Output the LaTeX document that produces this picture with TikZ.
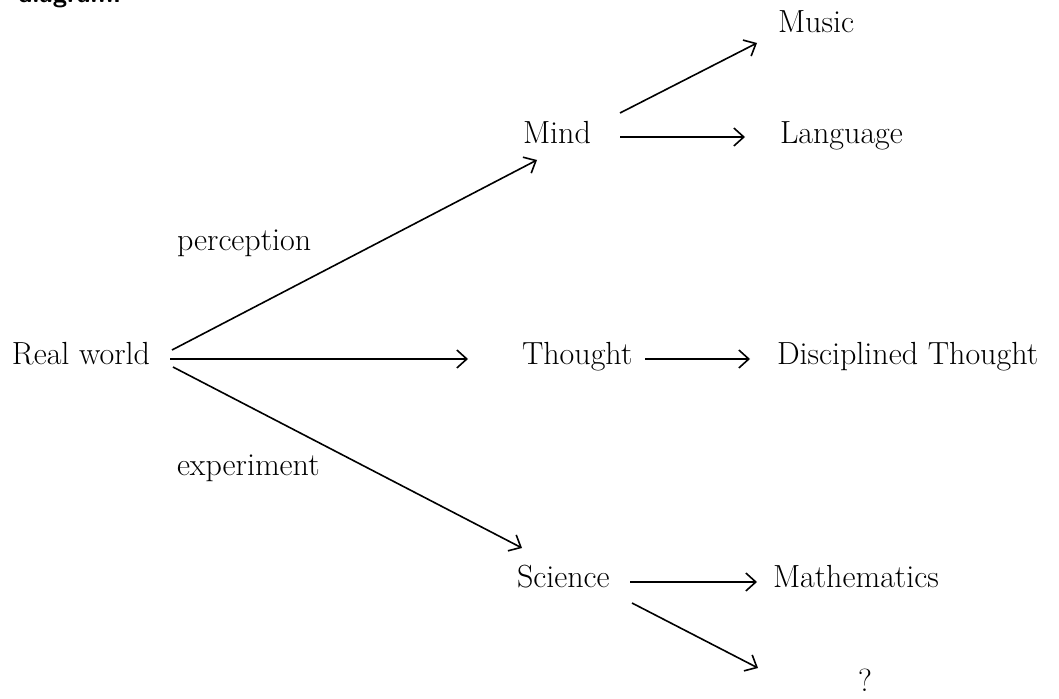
\documentclass[tikz,border=0pt]{standalone}
\usetikzlibrary{arrows.meta,calc}
\begin{document}
\begin{tikzpicture}[x=1pt,y=-1pt,
  lbl/.style={anchor=base west,inner sep=0pt,outer sep=0pt,font=\fontsize{32}{38}\selectfont},
  arr/.style={line width=1.6pt,-{Straight Barb[length=10pt,width=18pt,line width=1.6pt]}}]
\useasboundingbox (0,0) rectangle (1059,698);
\fill[white] (0,0) rectangle (1059,698);
\node[lbl,font=\fontsize{26}{30}\selectfont\bfseries\sffamily] (diag) at (18,3) {diagram.};
\node[lbl] (rw) at (12,364) {Real world};
\node[lbl] (perc) at (177,250) {perception};
\node[lbl] (exp) at (177,475) {experiment};
\node[lbl] (mind) at (523,143) {Mind};
\node[lbl] (thought) at (522,364) {Thought};
\node[lbl] (sci) at (517,587) {Science};
\node[lbl] (music) at (778,33) {Music};
\node[lbl] (lang) at (780,143) {Language};
\node[lbl] (dt) at (777,364) {Disciplined Thought};
\node[lbl] (math) at (773,587) {Mathematics};
\node[lbl] (q) at (858,691) {?};
\draw[arr] ([shift={(160,-14)}]rw.base west) -- ([shift={(14,17)}]mind.base west);
\draw[arr] ([shift={(158,-5)}]rw.base west) -- ([shift={(-54,-5)}]thought.base west);
\draw[arr] ([shift={(161,3)}]rw.base west) -- ([shift={(5,-39)}]sci.base west);
\draw[arr] ([shift={(97,-30)}]mind.base west) -- ([shift={(-21,10)}]music.base west);
\draw[arr] ([shift={(97,-6)}]mind.base west) -- ([shift={(-35,-6)}]lang.base west);
\draw[arr] ([shift={(123,-5)}]thought.base west) -- ([shift={(-27,-5)}]dt.base west);
\draw[arr] ([shift={(113,-5)}]sci.base west) -- ([shift={(-16,-5)}]math.base west);
\draw[arr] ([shift={(115,16)}]sci.base west) -- ([shift={(-100,-23)}]q.base west);
\end{tikzpicture}
\end{document}
